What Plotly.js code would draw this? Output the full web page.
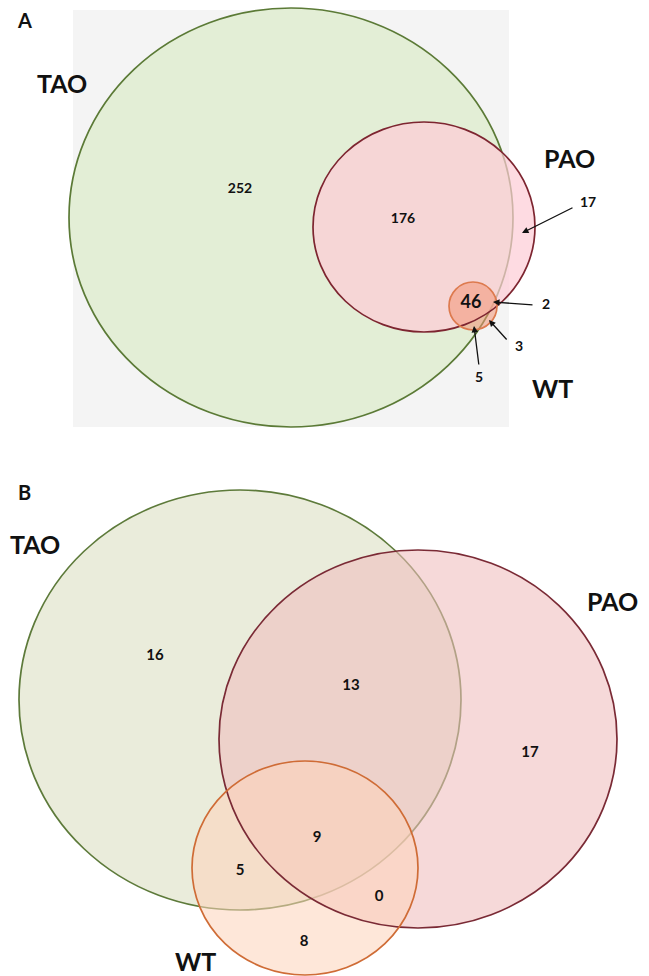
<!DOCTYPE html>
<html>
<head>
<meta charset="utf-8">
<script src="https://cdn.plot.ly/plotly-3.0.1.min.js"></script>
<style>html,body{margin:0;padding:0;background:#fff;}#chart{width:649px;height:976px;}</style>
</head>
<body>
<div id="chart"></div>
<script>
// ---- data ----
const panelLabels = ['A', 'B'];
const setNames = ['TAO', 'PAO', 'WT'];
// Panel A region counts
const regionsA = ['TAO', 'TAO∩PAO', 'PAO∩WT∩TAO', 'PAO only', 'PAO∩WT', 'WT only', 'TAO∩WT'];
const countsA = [252, 176, 46, 17, 2, 3, 5];
// Panel B region counts
const regionsB = ['TAO only', 'TAO∩PAO', 'PAO only', 'TAO∩PAO∩WT', 'TAO∩WT', 'PAO∩WT', 'WT only'];
const countsB = [16, 13, 17, 9, 5, 0, 8];

// ---- layout geometry (pixel space of the 649x976 figure) ----
const circA = [ {cx: 291, cy: 217.5, rx: 222, ry: 209.5},
                {cx: 424, cy: 227, rx: 111, ry: 105},
                {cx: 473, cy: 306, rx: 24, ry: 24} ];
const circB = [ {cx: 240, cy: 700, rx: 221, ry: 210},
                {cx: 418, cy: 739, rx: 199, ry: 189},
                {cx: 305, cy: 868, rx: 113, ry: 107} ];
const posA = [[240,189],[403,219],[471,303],[588,203],[546,305],[519,347],[479,378]];
const posB = [[155,656],[351,686],[530,753],[317,838],[240,871],[379,897],[304,942]];
const arrowsA = [ // [tailX, tailY, headX, headY]
  [574,207,522,233], [534,305,493,302], [508,341,489,320], [479,366,474,326] ];
const setLabelPosA = [[62,83],[569,158],[552,388]];
const setLabelPosB = [[35,544],[612,601],[195,961]];
const panelLabelPos = [[24,20],[24,492]];

const fillA = ['#e3eed6', 'rgba(254,204,214,0.7)', 'rgba(243,150,118,0.55)'];
const fillB = ['#eaecdb', 'rgba(240,190,190,0.58)', 'rgba(253,212,185,0.55)'];
const lineCol = ['#5b7a36', '#7d2530', '#dd7a4e'];
const lineColB = ['#5d7a3a', '#7a2a35', '#cf6c36'];

function ell(c, fill, line, w) {
  return {type: 'circle', xref: 'x', yref: 'y',
    x0: c.cx - c.rx, x1: c.cx + c.rx, y0: c.cy - c.ry, y1: c.cy + c.ry,
    fillcolor: fill, line: {color: line, width: w}, layer: 'below'};
}
const none = 'rgba(0,0,0,0)';
const shapes = [];
// panel A background
shapes.push({type:'rect', xref:'x', yref:'y', x0:73, x1:509, y0:10, y1:427,
  fillcolor:'#f4f4f4', line:{width:0}, layer:'below'});
// panel A
shapes.push(ell(circA[0], fillA[0], lineCol[0], 1.7));
shapes.push(ell(circA[1], fillA[1], none, 0));
shapes.push(ell(circA[2], fillA[2], none, 0));
shapes.push(ell(circA[1], none, lineCol[1], 1.7));
shapes.push(ell(circA[2], none, lineCol[2], 1.7));
// panel B
shapes.push(ell(circB[0], fillB[0], lineColB[0], 1.7));
shapes.push(ell(circB[1], fillB[1], none, 0));
shapes.push(ell(circB[2], fillB[2], none, 0));
shapes.push(ell(circB[1], none, lineColB[1], 1.7));
shapes.push(ell(circB[2], none, lineColB[2], 1.7));

const annotations = [];
for (let i = 0; i < arrowsA.length; i++) {
  const a = arrowsA[i];
  annotations.push({x: a[2], y: a[3], ax: a[0], ay: a[1], xref:'x', yref:'y', axref:'x', ayref:'y',
    text: '', showarrow: true, arrowhead: 2, arrowsize: 1, arrowwidth: 1.3, arrowcolor: '#111', standoff: 0});
}
const font = 'Lato, "Open Sans", sans-serif';
setNames.forEach((n, i) => {
  annotations.push({x: setLabelPosA[i][0], y: setLabelPosA[i][1], xref:'x', yref:'y', text: '<b>'+n+'</b>',
    showarrow:false, font:{family: font, size: 25, color:'#111'}});
  annotations.push({x: setLabelPosB[i][0], y: setLabelPosB[i][1], xref:'x', yref:'y', text: '<b>'+n+'</b>',
    showarrow:false, font:{family: font, size: 25, color:'#111'}});
});
panelLabels.forEach((p, i) => {
  annotations.push({x: panelLabelPos[i][0], y: panelLabelPos[i][1], xref:'x', yref:'y', text:'<b>'+p+'</b>',
    showarrow:false, font:{family: font, size: 20, color:'#111'}});
});

const sizesA = countsA.map((v, i) => i === 2 ? 18 : 14);
const traces = [
  {type:'scatter', mode:'text', x: posA.map(p=>p[0]), y: posA.map(p=>p[1]),
   text: countsA.map(v=>'<b>'+v+'</b>'), customdata: regionsA,
   textfont:{family: font, size: sizesA, color:'#111'}, hoverinfo:'none', showlegend:false},
  {type:'scatter', mode:'text', x: posB.map(p=>p[0]), y: posB.map(p=>p[1]),
   text: countsB.map(v=>'<b>'+v+'</b>'), customdata: regionsB,
   textfont:{family: font, size: 15, color:'#111'}, hoverinfo:'none', showlegend:false}
];

const layout = {
  width: 649, height: 976, margin:{l:0,r:0,t:0,b:0},
  paper_bgcolor:'#ffffff', plot_bgcolor:'#ffffff',
  xaxis:{range:[0,649], visible:false, fixedrange:true},
  yaxis:{range:[976,0], visible:false, fixedrange:true},
  shapes: shapes, annotations: annotations, showlegend:false
};
Plotly.newPlot('chart', traces, layout, {displayModeBar:false, staticPlot:true});
</script>
</body>
</html>
